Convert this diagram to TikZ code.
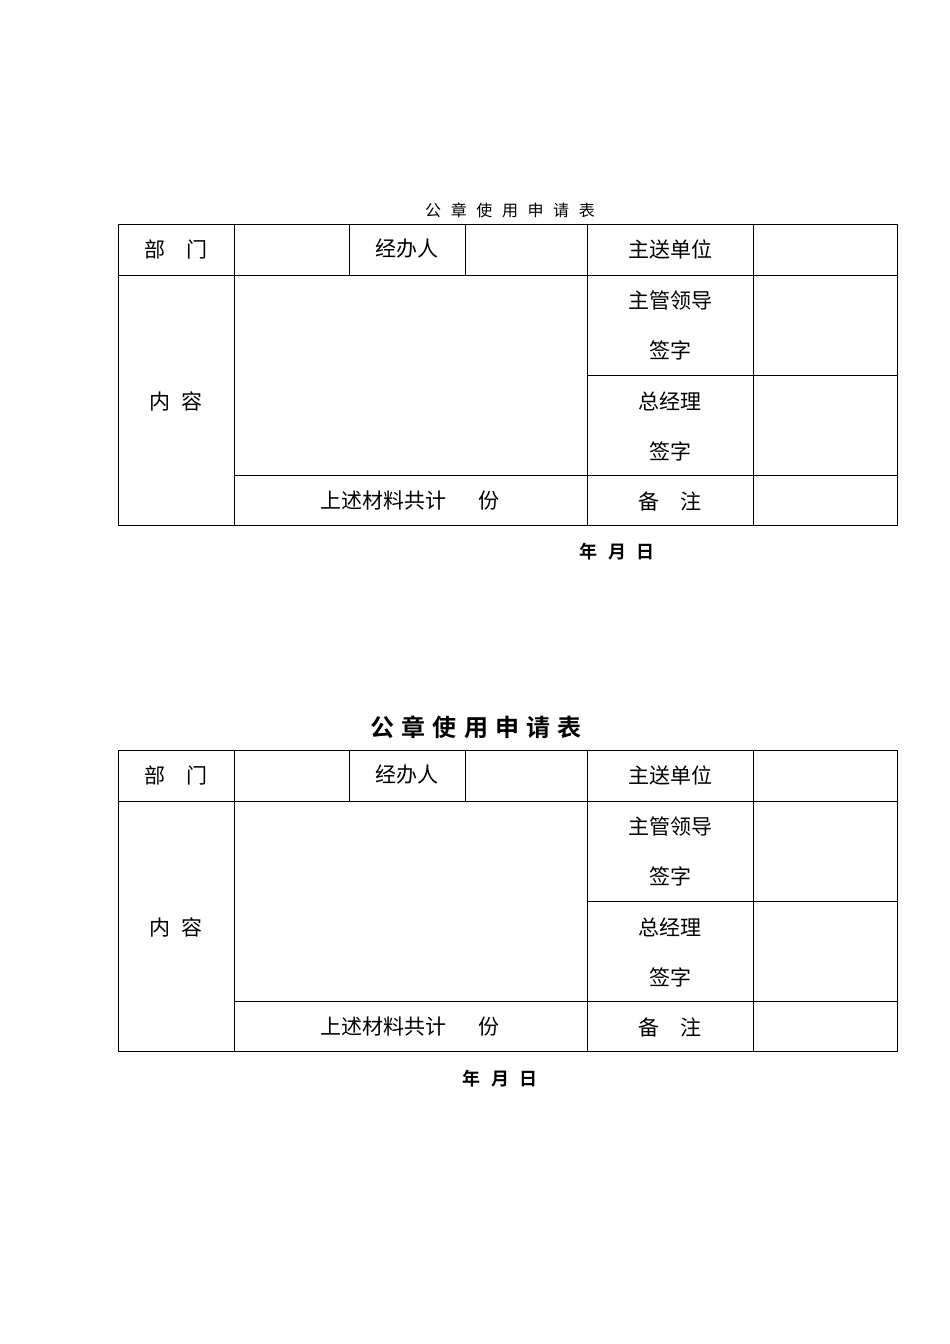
\documentclass[tikz,border=0pt]{standalone}
\usepackage{fontspec}
\newfontfamily\cjk{Noto Sans CJK SC}
\newfontfamily\cjkb{Noto Sans CJK SC Bold}
\begin{document}
\begin{tikzpicture}[x=1pt,y=-1pt,
  cell/.style={font=\cjk\fontsize{21}{21}\selectfont,inner sep=0pt},
  grid/.style={line width=0.8pt,black}]
\useasboundingbox (0,0) rectangle (950,1344);
\newcommand{\formtable}[1]{%
\begin{scope}[yshift=-#1]
\draw[grid] (118,224) rectangle (897,525);
\draw[grid] (118,275) -- (897,275);
\draw[grid] (587,375) -- (897,375);
\draw[grid] (234,475) -- (897,475);
\draw[grid] (234,224) -- (234,525);
\draw[grid] (349,224) -- (349,275);
\draw[grid] (465,224) -- (465,275);
\draw[grid] (587,224) -- (587,525);
\draw[grid] (753,224) -- (753,525);
\node[cell] (d) at (176,249) {部\hspace{1em}门};
\node[cell] (j) at (407,249) {经办人};
\node[cell] (z) at (670,249) {主送单位};
\node[cell] (n) at (176,401) {内\hspace{0.5em}容};
\node[cell] (g1) at (670,301) {主管领导};
\node[cell] (g2) at (670,350) {签字};
\node[cell] (m1) at (670,401) {总经理};
\node[cell] (m2) at (670,451) {签字};
\node[cell] (s) at (410,501) {上述材料共计\hspace{1.5em}份};
\node[cell] (b) at (670,501) {备\hspace{1em}注};
\end{scope}}
\formtable{0pt}
\formtable{526pt}
\node[font=\cjk\fontsize{16}{16}\selectfont] (t1) at (510,210) {公\hspace{0.6em}章\hspace{0.6em}使\hspace{0.6em}用\hspace{0.6em}申\hspace{0.6em}请\hspace{0.6em}表};
\node[font=\cjkb\fontsize{18}{18}\selectfont] (d1) at (617,552) {年\hspace{0.6em}月\hspace{0.6em}日};
\node[font=\cjkb\fontsize{24}{24}\selectfont] (t2) at (476,727) {公\hspace{0.3em}章\hspace{0.3em}使\hspace{0.3em}用\hspace{0.3em}申\hspace{0.3em}请\hspace{0.3em}表};
\node[font=\cjkb\fontsize{18}{18}\selectfont] (d2) at (500,1079) {年\hspace{0.6em}月\hspace{0.6em}日};
\end{tikzpicture}
\end{document}
